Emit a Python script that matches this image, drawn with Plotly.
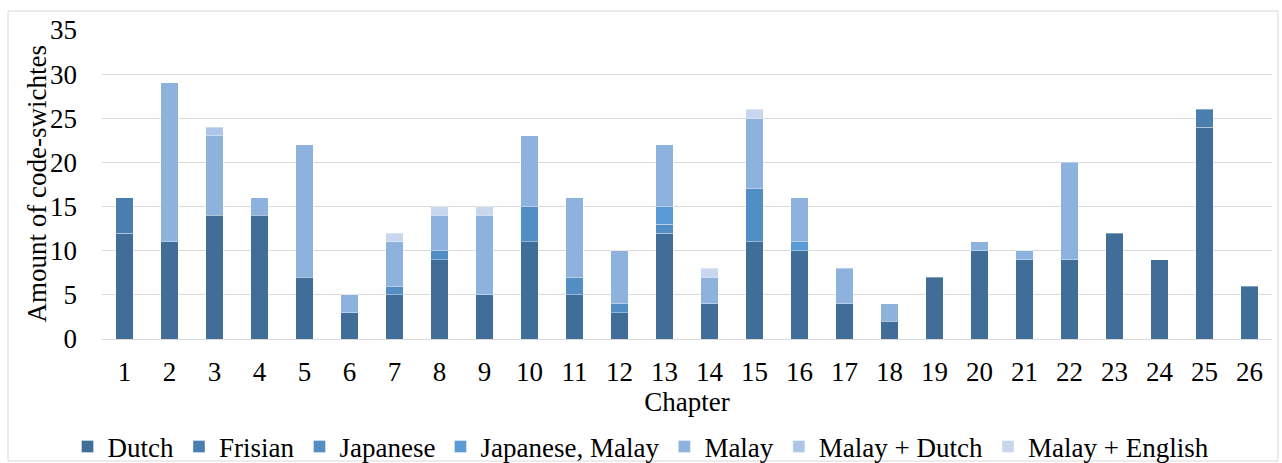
import plotly.graph_objects as go

chapters = [str(i) for i in range(1, 27)]
dutch = [12, 11, 14, 14, 7, 3, 5, 9, 5, 11, 5, 3, 12, 4, 11, 10, 4, 2, 7, 10, 9, 9, 12, 9, 24, 6]
frisian = [4, 0, 0, 0, 0, 0, 0, 0, 0, 0, 0, 0, 0, 0, 0, 0, 0, 0, 0, 0, 0, 0, 0, 0, 2, 0]
japanese = [0, 0, 0, 0, 0, 0, 1, 1, 0, 4, 2, 1, 1, 0, 6, 0, 0, 0, 0, 0, 0, 0, 0, 0, 0, 0]
japanese_malay = [0, 0, 0, 0, 0, 0, 0, 0, 0, 0, 0, 0, 2, 0, 0, 1, 0, 0, 0, 0, 0, 0, 0, 0, 0, 0]
malay = [0, 18, 9, 2, 15, 2, 5, 4, 9, 8, 9, 6, 7, 3, 8, 5, 4, 2, 0, 1, 1, 11, 0, 0, 0, 0]
malay_dutch = [0, 0, 1, 0, 0, 0, 0, 0, 0, 0, 0, 0, 0, 0, 0, 0, 0, 0, 0, 0, 0, 0, 0, 0, 0, 0]
malay_english = [0, 0, 0, 0, 0, 0, 1, 1, 1, 0, 0, 0, 0, 1, 1, 0, 0, 0, 0, 0, 0, 0, 0, 0, 0, 0]

series_names = ["Dutch", "Frisian", "Japanese", "Japanese, Malay", "Malay", "Malay + Dutch", "Malay + English"]
series_values = [dutch, frisian, japanese, japanese_malay, malay, malay_dutch, malay_english]
series_colors = ["#416E98", "#4A7EAF", "#528EC4", "#5B9BD5", "#8DB2DD", "#ADC6E7", "#C8D7ED"]

FONT = "Liberation Serif, Times New Roman, serif"

fig = go.Figure()
for name, vals, col in zip(series_names, series_values, series_colors):
    fig.add_trace(go.Bar(
        x=chapters,
        y=[v if v else None for v in vals],
        name=name,
        marker=dict(color=col, line=dict(color="rgba(255,255,255,0.45)", width=0.8)),
    ))

# plot area: x 102..1272, y 30..339
W, H = 1282, 463
L, R, T, B = 102, 10, 30, 124
pw, ph = W - L - R, H - T - B

def px_x(x):
    return (x - L) / pw

def px_y(y):
    return (H - B - y) / ph

fig.update_layout(
    width=W, height=H,
    margin=dict(l=L, r=R, t=T, b=B),
    barmode="stack",
    bargap=0.62,
    paper_bgcolor="white",
    plot_bgcolor="white",
    font=dict(family=FONT, size=27, color="#000000"),
    showlegend=True,
    legend=dict(
        orientation="h",
        xref="container", yref="container",
        x=0.5, xanchor="center",
        y=1 - 447 / H, yanchor="middle",
        traceorder="normal",
        font=dict(family=FONT, size=27, color="#000000"),
        itemwidth=30,
        bgcolor="rgba(0,0,0,0)",
    ),
    xaxis=dict(
        type="category",
        showgrid=False,
        showline=True, linecolor="#D9D9D9", linewidth=1,
        ticks="",
        tickfont=dict(family=FONT, size=27, color="#000000"),
        title=dict(text="Chapter", font=dict(family=FONT, size=27, color="#000000"), standoff=5),
        ticklabelstandoff=9,
    ),
    yaxis=dict(
        range=[0, 35],
        dtick=5,
        showgrid=True, gridcolor="#D9D9D9", gridwidth=1,
        zeroline=False,
        showline=False,
        ticks="",
        tickfont=dict(family=FONT, size=27, color="#000000"),
        ticklabelstandoff=24,
    ),
    annotations=[dict(
        text="Amount of code-swichtes",
        xref="paper", yref="paper",
        x=px_x(36), y=0.5,
        xanchor="center", yanchor="middle",
        textangle=-90,
        showarrow=False,
        font=dict(family=FONT, size=27, color="#000000"),
    )],
    shapes=[dict(
        type="rect", xref="paper", yref="paper",
        x0=px_x(8), x1=px_x(1278), y0=px_y(461), y1=px_y(11),
        line=dict(color="#D9D9D9", width=1),
        fillcolor="rgba(0,0,0,0)",
        layer="below",
    )],
)

fig.write_html("out.html")
